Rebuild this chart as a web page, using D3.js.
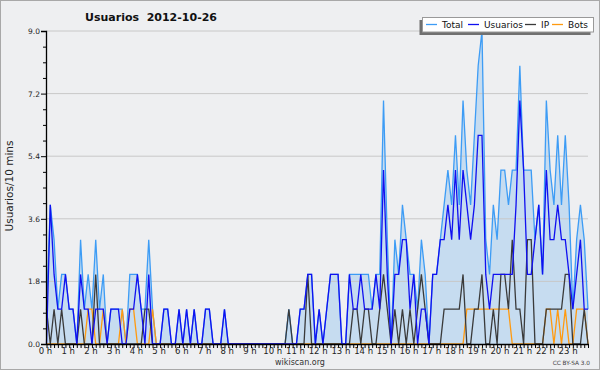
<!DOCTYPE html>
<html><head><meta charset="utf-8">
<script src="https://cdn.jsdelivr.net/npm/d3@7"></script>
<style>body{margin:0;background:#eeeff1}svg{display:block}text{font-family:"DejaVu Sans",sans-serif}</style>
</head><body>
<svg id="c" width="600" height="370"></svg>
<script>
const title = "Usuarios  2012-10-26";
const yLabel = "Usuarios/10 mins";
const seriesNames = ["Total","Usuarios","IP","Bots"];
const hourLabels = d3.range(24).map(h => h + " h");
const yTicks = [0, 1.8, 3.6, 5.4, 7.2, 9.0];

const total = [
1,4,3,1,2,2, 1,1,0,3,1,2, 1,3,1,2,0,1, 1,1,1,0,2,2, 2,1,1,3,1,0,
0,1,1,0,0,1, 0,1,0,1,0,0, 1,1,0,0,0,1, 0,0,0,0,0,0, 0,0,0,0,0,0,
0,0,0,0,1,0, 0,1,1,2,2,0, 1,0,1,2,2,2, 0,0,2,2,2,2, 2,2,1,2,2,7,
3,0,3,2,4,3, 2,2,1,3,2,0, 2,2,3,4,5,4, 6,4,7,5,4,6, 8,9,3,2,4,3,
5,5,4,5,5,8, 5,5,5,3,4,2, 7,5,4,6,4,6, 4,1,3,4,3,1];
const usuarios = [
0,4,2,1,1,2, 1,1,0,2,1,1, 0,1,1,1,0,1, 1,1,0,0,1,1, 2,1,0,2,0,0,
0,1,1,0,0,1, 0,1,0,1,0,0, 1,1,0,0,0,1, 0,0,0,0,0,0, 0,0,0,0,0,0,
0,0,0,0,0,0, 0,1,1,2,2,0, 1,0,1,2,2,2, 0,0,2,1,1,2, 1,1,1,2,1,5,
2,0,2,2,3,3, 1,2,0,1,1,0, 2,2,3,3,4,3, 5,3,5,4,3,4, 6,6,2,1,2,2,
2,2,2,2,4,7, 5,2,2,3,4,2, 5,3,3,4,3,3, 2,1,2,3,1,1];
const ip = [
1,0,1,0,1,0, 0,0,0,1,0,0, 0,2,0,0,0,0, 0,0,0,0,0,0, 0,0,1,1,0,0,
0,0,0,0,0,0, 0,0,0,0,0,0, 0,0,0,0,0,0, 0,0,0,0,0,0, 0,0,0,0,0,0,
0,0,0,0,1,0, 0,0,0,2,0,0, 0,0,0,0,0,0, 0,0,0,1,1,0, 1,1,0,0,1,2,
1,0,1,0,1,0, 1,0,1,2,1,0, 0,0,0,1,1,1, 1,1,2,0,0,1, 1,2,0,0,1,0,
2,2,1,3,1,1, 0,3,3,0,0,0, 1,1,1,1,1,2, 2,0,0,0,1,0];
const bots = [
0,0,0,0,0,0, 0,0,0,0,0,1, 1,0,0,1,0,0, 0,0,1,0,1,1, 0,0,0,0,1,0,
0,0,0,0,0,0, 0,0,0,0,0,0, 0,0,0,0,0,0, 0,0,0,0,0,0, 0,0,0,0,0,0,
0,0,0,0,0,0, 0,0,0,0,0,0, 0,0,0,0,0,0, 0,0,0,0,0,0, 0,0,0,0,0,0,
0,0,0,0,0,0, 0,0,0,0,0,0, 0,0,0,0,0,0, 0,0,0,1,1,1, 1,1,1,1,1,1,
1,1,1,0,0,0, 0,0,0,0,0,0, 1,1,0,1,0,1, 0,0,1,1,1,0];

const colors = {Total:"#3d9cf5", Usuarios:"#1010f0", IP:"#3a3a3a", Bots:"#ff9a10"};
const svg = d3.select("#c");
svg.append("rect").attr("x",0.5).attr("y",0.5).attr("width",599).attr("height",369)
  .attr("fill","#eeeff1").attr("stroke","#a8a8a8");

const x = d3.scaleLinear().domain([0,143]).range([46.5,588]);
const y = d3.scaleLinear().domain([0,9]).range([344,31]);
const idx = d3.range(144);

// fill
svg.append("path").datum(idx)
  .attr("d", d3.area().x(i=>x(i)).y0(y(0)).y1(i=>y(total[i])))
  .attr("fill","#c6dcf0");

// grid
svg.append("g").selectAll("line").data(yTicks.slice(1)).join("line")
  .attr("x1",46).attr("x2",588).attr("y1",d=>y(d)).attr("y2",d=>y(d))
  .attr("stroke","#c8c8c8").attr("stroke-width",1);

// lines
const series = {Total: total, Usuarios: usuarios, IP: ip, Bots: bots};
["Total","Bots","IP","Usuarios"].forEach(n => {
  const arr = series[n];
  svg.append("path").datum(idx)
    .attr("d", d3.line().x(i=>x(i)).y(i=>y(arr[i])))
    .attr("fill","none").attr("stroke",colors[n]).attr("stroke-width",1.3)
    .attr("stroke-linejoin","miter");
});

// y axis
const yAx = svg.append("g").attr("transform","translate(46,0)")
  .call(d3.axisLeft(y).tickValues(yTicks).tickFormat(d3.format(".1f")).tickSize(5).tickPadding(1));
yAx.select(".domain").attr("stroke","#000").attr("stroke-width",1.3);
yAx.selectAll("text").attr("font-size","7.5px").attr("fill","#222").attr("font-family","DejaVu Sans");
svg.append("g").attr("transform","translate(46,0)")
  .call(d3.axisLeft(y).tickValues(d3.range(0,9.01,0.45).filter(v=>Math.abs(v/1.8-Math.round(v/1.8))>0.01)).tickFormat("").tickSize(3))
  .select(".domain").remove();

// x axis
const xAx = svg.append("g").attr("transform","translate(0,344)")
  .call(d3.axisBottom(x).tickValues(idx).tickFormat("").tickSize(4).tickSizeOuter(0));
xAx.select(".domain").attr("stroke","#000").attr("stroke-width",1.5);
const xLab = svg.append("g").attr("transform","translate(-1.5,344)")
  .call(d3.axisBottom(x).tickValues(d3.range(24).map(h=>h*6)).tickFormat((d,i)=>hourLabels[i]).tickSize(0).tickPadding(4));
xLab.select(".domain").remove();
xLab.selectAll("text").attr("font-size","8.5px").attr("fill","#222").attr("font-family","DejaVu Sans");

// title
svg.append("text").attr("x",151).attr("y",21).attr("text-anchor","middle")
  .attr("font-size","11px").attr("font-weight","bold").attr("fill","#111").attr("xml:space","preserve")
  .style("white-space","pre").text(title);

// y label
svg.append("text").attr("transform","translate(13,186) rotate(-90)").attr("text-anchor","middle")
  .attr("font-size","10.5px").attr("fill","#222").text(yLabel);

// footer
svg.append("text").attr("x",300).attr("y",365).attr("text-anchor","middle")
  .attr("font-size","8px").attr("fill","#333").text("wikiscan.org");
svg.append("text").attr("x",590).attr("y",365).attr("text-anchor","end")
  .attr("font-size","5.8px").attr("fill","#444").text("CC BY-SA 3.0");

// legend
const lg = svg.append("g");
lg.append("rect").attr("x",419.5).attr("y",20).attr("width",171).attr("height",15).attr("fill","#707070");
lg.append("rect").attr("x",422.5).attr("y",17.5).attr("width",171).attr("height",14.5)
  .attr("fill","#fff").attr("stroke","#999");
const lx = [426, 468, 525, 552];
seriesNames.forEach((n,k) => {
  lg.append("line").attr("x1",lx[k]).attr("x2",lx[k]+11).attr("y1",24.5).attr("y2",24.5)
    .attr("stroke",colors[n]).attr("stroke-width",1.3);
  lg.append("text").attr("x",lx[k]+16).attr("y",28).attr("font-size","9px").attr("fill","#111").text(n);
});
</script>
</body></html>
